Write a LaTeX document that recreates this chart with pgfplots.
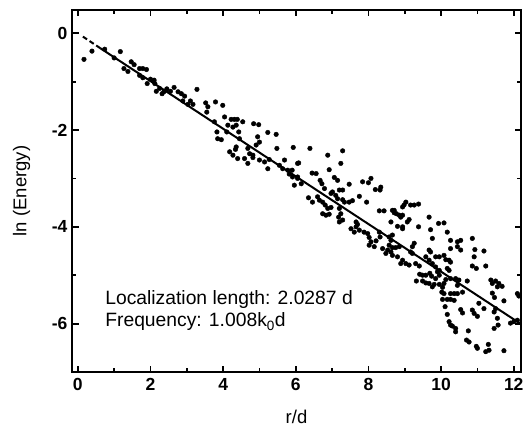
\documentclass[border=0pt]{standalone}
\usepackage{fontspec}
\setmainfont{Liberation Sans}
\usepackage{pgfplots}
\pgfplotsset{compat=1.18}
\usepackage{pgfplotstable}

% scattered energies
\pgfplotstableread{
x y
0.17 -0.54
0.39 -0.37
0.74 -0.33
1.00 -0.51
1.17 -0.38
1.27 -0.73
1.38 -0.79
1.47 -0.59
1.55 -0.65
1.70 -0.73
1.79 -0.73
1.89 -0.75
1.70 -0.87
1.79 -0.92
1.91 -1.04
2.00 -0.95
2.10 -0.97
2.12 -1.04
2.16 -1.20
2.25 -1.14
2.32 -1.25
2.37 -1.21
2.45 -1.15
2.55 -1.20
2.65 -1.12
2.76 -1.21
2.85 -1.25
2.94 -1.30
2.89 -1.40
3.03 -1.47
3.10 -1.40
3.17 -1.47
3.28 -1.16
3.52 -1.44
3.58 -1.52
3.55 -1.63
3.79 -1.42
3.99 -1.49
4.04 -1.73
3.76 -1.83
3.83 -2.04
3.85 -2.18
3.95 -2.20
4.13 -1.90
4.10 -2.04
4.22 -1.78
4.31 -1.78
4.39 -1.78
4.27 -1.94
4.36 -1.90
4.43 -2.04
4.45 -2.18
4.54 -1.83
4.84 -1.87
4.98 -1.89
5.23 -2.05
5.46 -2.09
4.95 -2.14
5.00 -2.25
4.91 -2.31
4.18 -2.45
4.27 -2.52
4.36 -2.35
4.34 -2.40
4.68 -2.38
4.73 -2.49
4.59 -2.59
4.82 -2.52
4.82 -2.57
4.40 -2.59
4.68 -2.69
5.00 -2.62
5.14 -2.66
5.27 -2.61
5.23 -2.80
5.48 -2.38
5.69 -2.62
5.55 -2.73
5.64 -2.80
5.93 -2.36
6.05 -2.69
5.78 -2.83
5.82 -2.91
5.91 -2.97
6.05 -2.97
5.96 -3.14
6.39 -2.38
6.88 -2.52
7.29 -2.43
7.24 -2.69
6.08 -2.68
5.90 -2.83
6.45 -2.89
6.56 -2.90
6.92 -2.82
7.06 -2.98
7.15 -3.04
6.67 -3.04
6.72 -3.11
7.47 -3.12
7.84 -3.07
8.00 -3.09
8.07 -3.00
8.19 -3.23
8.32 -3.24
8.34 -3.18
6.05 -3.00
6.15 -3.11
6.79 -3.21
6.97 -3.31
7.01 -3.28
7.10 -3.35
7.20 -3.24
7.29 -3.24
7.15 -3.42
7.29 -3.44
7.34 -3.49
7.47 -3.49
7.56 -3.46
7.75 -3.37
7.95 -3.49
6.35 -3.40
6.46 -3.49
6.60 -3.38
6.65 -3.45
6.74 -3.49
6.81 -3.55
6.88 -3.62
6.97 -3.60
6.74 -3.73
6.83 -3.76
6.92 -3.74
7.20 -3.62
7.24 -3.73
7.18 -3.80
7.29 -3.86
7.20 -3.90
7.52 -4.04
7.66 -4.00
7.75 -4.07
7.61 -4.11
7.66 -3.90
7.70 -3.95
7.88 -4.11
7.98 -4.14
8.02 -4.22
8.07 -4.31
8.30 -4.11
8.32 -4.21
8.21 -4.29
8.02 -4.38
8.16 -4.41
8.39 -4.45
8.53 -4.48
8.62 -4.52
8.48 -4.55
8.66 -4.59
8.30 -3.67
8.43 -3.67
8.71 -3.66
8.77 -3.73
8.62 -3.90
8.80 -3.99
9.03 -3.49
8.98 -3.55
8.94 -3.59
9.16 -3.55
9.26 -3.55
9.38 -3.53
8.66 -3.66
8.71 -3.71
8.85 -3.76
8.94 -3.76
8.89 -3.80
9.12 -3.85
9.07 -3.90
8.94 -4.00
8.94 -4.04
9.38 -4.00
9.67 -3.80
9.71 -4.06
9.93 -3.93
10.08 -3.92
10.17 -4.11
9.76 -4.24
10.26 -4.28
10.45 -4.31
10.54 -4.28
10.86 -4.24
10.26 -4.45
10.45 -4.41
10.54 -4.48
10.93 -4.47
11.18 -4.50
10.91 -4.62
10.86 -4.81
10.97 -4.86
11.23 -4.81
9.67 -4.48
9.71 -4.52
9.85 -4.62
9.95 -4.62
10.08 -4.59
10.13 -4.68
10.22 -4.69
10.26 -4.73
10.17 -4.86
10.22 -4.90
9.58 -4.62
9.67 -4.69
9.76 -4.76
9.85 -4.83
9.95 -4.90
8.57 -4.38
8.66 -4.43
8.75 -4.43
8.85 -4.41
8.80 -4.62
8.94 -4.69
9.03 -4.76
8.89 -4.76
9.12 -4.79
9.30 -4.76
9.40 -4.81
9.21 -4.41
9.26 -4.34
9.16 -4.52
9.21 -4.55
8.57 -4.21
8.66 -4.17
8.62 -4.28
9.41 -4.98
9.49 -5.00
9.58 -5.00
9.69 -4.96
9.74 -5.02
9.90 -4.93
9.95 -5.00
9.85 -5.07
9.32 -5.12
9.49 -5.12
9.58 -5.16
9.67 -5.17
9.76 -5.24
9.81 -5.19
9.95 -5.19
10.04 -5.25
10.08 -5.17
10.13 -5.09
10.26 -5.07
10.40 -5.07
10.49 -5.10
10.45 -5.21
10.72 -5.12
10.02 -5.35
10.08 -5.38
10.26 -5.38
10.36 -5.38
10.45 -5.38
10.59 -5.35
10.04 -5.50
10.17 -5.50
10.26 -5.50
10.36 -5.52
10.11 -5.65
10.17 -5.81
10.54 -5.71
10.59 -5.78
10.86 -5.72
10.91 -5.79
11.00 -5.85
11.04 -5.58
11.18 -5.69
11.37 -5.10
11.41 -5.17
11.50 -5.12
11.59 -5.17
11.55 -5.24
11.68 -5.23
11.41 -5.37
11.47 -5.46
11.73 -5.53
11.50 -5.69
11.46 -5.76
11.55 -5.89
11.91 -5.99
12.00 -5.96
12.10 -5.93
12.10 -5.38
12.14 -5.43
10.22 -5.96
10.26 -6.03
10.31 -6.05
10.40 -6.10
10.40 -6.17
10.75 -6.15
10.70 -6.34
10.77 -6.38
10.97 -6.47
11.00 -6.51
11.30 -6.43
11.23 -6.58
11.32 -6.55
11.73 -6.56
11.46 -6.10
11.57 -6.03
}\energy

\begin{document}
\begin{tikzpicture}
\begin{axis}[
    at={(72bp,56bp)}, anchor=south west,
    scale only axis,
    width=449bp, height=362bp,
    xmin=-0.16, xmax=12.2,
    ymin=-7, ymax=0.48,
    xtick={0,2,...,12},
    ytick={-6,-4,-2,0},
    minor tick num=1,
    tick align=inside,
    major tick length=6.5bp,
    minor tick length=4bp,
    every tick/.style={line width=1.8bp, black},
    axis line style={line width=2.6bp},
    /pgf/number format/assume math mode=true,
    ticklabel style={font=\fontsize{17.5bp}{20bp}\selectfont\bfseries},
    xticklabel style={yshift=-3bp},
    yticklabel style={xshift=-1bp},
    xlabel={r/d},
    ylabel={ln (Energy)},
    label style={font=\fontsize{18.5bp}{21bp}\selectfont},
    xlabel style={at={(axis description cs:0.5,-0.124)}, anchor=center},
    ylabel style={at={(axis description cs:-0.112,0.5)}, anchor=center},
]
\addplot[only marks, mark=*, mark size=2.3bp, black] table[x=x, y=y] {\energy};
% linear fit, ln E = -r/2.0287
\addplot[black, line width=2bp, dash pattern=on 5bp off 3bp] coordinates {(0.14,-0.07) (0.62,-0.31)};
\addplot[black, line width=2bp] coordinates {(0.62,-0.31) (12.2,-6.01)};
\node[anchor=base west, font=\fontsize{19.3bp}{22bp}\selectfont] at (axis cs:0.66,-5.6) {Localization length: 2.0287 d};
\node[anchor=base west, font=\fontsize{19.3bp}{22bp}\selectfont] at (axis cs:0.66,-6.07) {Frequency: 1.008k\textsubscript{0}d};
\end{axis}
\pgfresetboundingbox
\path (0,0) rectangle (524bp,428bp);
\end{tikzpicture}
\end{document}
